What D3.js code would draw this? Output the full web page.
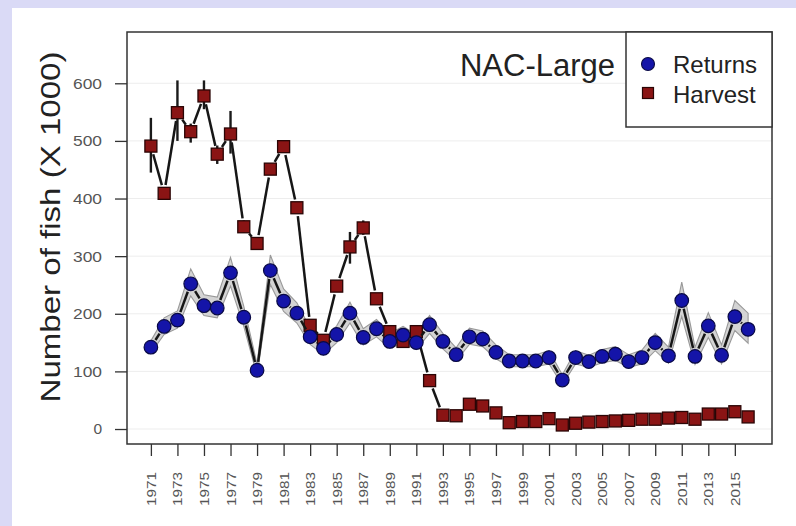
<!DOCTYPE html>
<html>
<head>
<meta charset="utf-8">
<script src="https://cdn.jsdelivr.net/npm/d3@7"></script>
<style>
  html, body { margin: 0; padding: 0; background: #dadaf6; }
  svg { display: block; font-family: "Liberation Sans", Arial, Helvetica, sans-serif; }
</style>
</head>
<body>
<svg id="chart" width="796" height="526"></svg>
<script>
// Years of the series
const years = d3.range(1971, 2017);

// Returns (thousands of fish) with lower / upper interval bounds
const returns = [142, 178, 189, 252, 214, 210, 271, 194, 102, 275,
                 222, 201, 160, 140, 164, 201, 159, 174, 152, 163,
                 150, 181, 152, 129, 160, 156, 133, 118, 118, 118,
                 124, 85, 124, 117, 126, 130, 117, 124, 150, 127,
                 223, 126, 179, 128, 195, 173];
const returnsLow = [132, 164, 175, 231, 197, 193, 248, 178, 93, 251,
                    204, 184, 147, 129, 150, 184, 146, 160, 140, 149,
                    138, 166, 139, 118, 147, 143, 122, 108, 108, 108,
                    113, 77, 113, 107, 115, 119, 107, 113, 136, 114,
                    195, 112, 159, 113, 171, 149];
const returnsHigh = [153, 193, 205, 278, 233, 229, 298, 213, 113, 302,
                     243, 219, 175, 153, 179, 220, 174, 190, 166, 178,
                     164, 197, 166, 141, 175, 170, 146, 129, 129, 129,
                     136, 94, 136, 128, 138, 143, 129, 137, 166, 142,
                     255, 142, 202, 146, 223, 201];

// Harvest (thousands of fish) with lower / upper interval bounds
const harvest = [491, 409, 549, 516, 578, 477, 512, 351, 322, 451,
                 490, 384, 180, 154, 248, 316, 349, 226, 169, 152,
                 169, 84, 24, 23, 43, 40, 28, 11, 13, 13,
                 18, 7, 10, 12, 13, 14, 15, 17, 17, 19,
                 20, 17, 26, 26, 30, 21];
const harvestLow = [445, 402, 500, 497, 555, 460, 478, 341, 313, 442,
                    482, 375, 173, 147, 240, 287, 337, 219, 163, 146,
                    163, 79, 21, 20, 39, 36, 25, 9, 11, 11,
                    15, 5, 8, 10, 11, 12, 13, 14, 14, 16,
                    17, 14, 23, 23, 27, 18];
const harvestHigh = [540, 416, 605, 530, 605, 492, 552, 362, 332, 460,
                     498, 393, 188, 162, 257, 342, 362, 234, 176, 159,
                     176, 89, 27, 26, 47, 44, 31, 13, 15, 15,
                     21, 9, 12, 14, 15, 16, 17, 20, 20, 22,
                     23, 20, 29, 29, 33, 24];

// Axis ticks and labels
const yTicks = [0, 100, 200, 300, 400, 500, 600];
const xTicks = d3.range(1971, 2016, 2);
const seriesNames = ["Returns", "Harvest"];
const panelTitle = "NAC-Large";
const yTitle = "Number of fish (X 1000)";

const svg = d3.select("#chart");

// White page panel
svg.append("rect").attr("x", 12).attr("y", 8).attr("width", 784).attr("height", 518).attr("fill", "#ffffff");

const plot = { left: 127, top: 32, right: 772, bottom: 444 };
const x = d3.scaleLinear().domain([1969.2, 2017.8]).range([plot.left, plot.right]);
const y = d3.scaleLinear().domain([-26, 689]).range([plot.bottom, plot.top]);

// Faint horizontal grid
svg.append("g").selectAll("line").data(yTicks).join("line")
  .attr("x1", plot.left).attr("x2", plot.right)
  .attr("y1", d => y(d)).attr("y2", d => y(d))
  .attr("stroke", "#ededed").attr("stroke-width", 1);

// Interval band for returns
const band = d3.area()
  .x((d, i) => x(years[i]))
  .y0((d, i) => y(returnsLow[i]))
  .y1((d, i) => y(returnsHigh[i]));
svg.append("path").datum(returns).attr("d", band)
  .attr("fill", "#d4d4d4").attr("stroke", "#999").attr("stroke-width", 1.1);

// Connected segments with a gap around each point
function gappedSegments(values, gap) {
  const pts = values.map((v, i) => [x(years[i]), y(v)]);
  const segs = [];
  for (let i = 0; i < pts.length - 1; i++) {
    const [x0, y0] = pts[i], [x1, y1] = pts[i + 1];
    const len = Math.hypot(x1 - x0, y1 - y0);
    if (len <= 2 * gap) continue;
    const ux = (x1 - x0) / len, uy = (y1 - y0) / len;
    segs.push([x0 + ux * gap, y0 + uy * gap, x1 - ux * gap, y1 - uy * gap]);
  }
  return segs;
}

// Harvest interval bars
svg.append("g").selectAll("line").data(harvest).join("line")
  .attr("x1", (d, i) => x(years[i])).attr("x2", (d, i) => x(years[i]))
  .attr("y1", (d, i) => y(harvestLow[i])).attr("y2", (d, i) => y(harvestHigh[i]))
  .attr("stroke", "#1a1a1a").attr("stroke-width", 2.4);

// Harvest line
svg.append("g").selectAll("line").data(gappedSegments(harvest, 8.5)).join("line")
  .attr("x1", d => d[0]).attr("y1", d => d[1]).attr("x2", d => d[2]).attr("y2", d => d[3])
  .attr("stroke", "#161616").attr("stroke-width", 2.5);

// Harvest squares
const sq = 12;
svg.append("g").selectAll("rect").data(harvest).join("rect")
  .attr("x", (d, i) => x(years[i]) - sq / 2).attr("y", d => y(d) - sq / 2)
  .attr("width", sq).attr("height", sq)
  .attr("fill", "#8a1414").attr("stroke", "#2a0505").attr("stroke-width", 1.3);

// Returns line
svg.append("g").selectAll("line").data(gappedSegments(returns, 8.5)).join("line")
  .attr("x1", d => d[0]).attr("y1", d => d[1]).attr("x2", d => d[2]).attr("y2", d => d[3])
  .attr("stroke", "#161616").attr("stroke-width", 2.5);

// Returns circles
svg.append("g").selectAll("circle").data(returns).join("circle")
  .attr("cx", (d, i) => x(years[i])).attr("cy", d => y(d)).attr("r", 6.8)
  .attr("fill", "#1414a8").attr("stroke", "#0a0a45").attr("stroke-width", 1.2);

// Y axis
const yAxis = svg.append("g").attr("transform", `translate(${plot.left},0)`)
  .call(d3.axisLeft(y).tickValues(yTicks).tickSize(12).tickPadding(13).tickFormat(d3.format("d")));
yAxis.select(".domain").remove();
yAxis.selectAll("line").attr("stroke", "#333").attr("stroke-width", 1.3);
yAxis.selectAll("text")
  .attr("fill", "#555").attr("font-size", 15.5)
  .attr("font-family", "Liberation Sans, Arial, sans-serif")
  .each(function (d) {
    if (d >= 100) d3.select(this).attr("textLength", 29).attr("lengthAdjust", "spacingAndGlyphs");
  });

// X axis
const xAxis = svg.append("g").attr("transform", `translate(0,${plot.bottom})`)
  .call(d3.axisBottom(x).tickValues(xTicks).tickSize(12).tickFormat(d3.format("d")));
xAxis.select(".domain").remove();
xAxis.selectAll("line").attr("stroke", "#333").attr("stroke-width", 1.3);
xAxis.selectAll("text")
  .attr("fill", "#555").attr("font-size", 13)
  .attr("font-family", "Liberation Sans, Arial, sans-serif")
  .attr("text-anchor", "end")
  .attr("transform", "translate(0,28) rotate(-90)")
  .attr("x", 0).attr("y", 0).attr("dy", "0.35em")
  .attr("textLength", 34).attr("lengthAdjust", "spacingAndGlyphs");

// Plot frame
svg.append("rect")
  .attr("x", plot.left).attr("y", plot.top)
  .attr("width", plot.right - plot.left).attr("height", plot.bottom - plot.top)
  .attr("fill", "none").attr("stroke", "#333").attr("stroke-width", 1.5);

// Y axis title
svg.append("text")
  .attr("transform", "translate(60,227) rotate(-90)")
  .attr("text-anchor", "middle")
  .attr("font-size", 28).attr("fill", "#222")
  .attr("textLength", 351).attr("lengthAdjust", "spacingAndGlyphs")
  .text(yTitle);

// Panel title
svg.append("text")
  .attr("x", 615).attr("y", 76).attr("text-anchor", "end")
  .attr("font-size", 31).attr("fill", "#222")
  .text(panelTitle);

// Legend
const leg = svg.append("g");
leg.append("rect").attr("x", 626).attr("y", plot.top).attr("width", plot.right - 626).attr("height", 127 - plot.top)
  .attr("fill", "#ffffff").attr("stroke", "#333").attr("stroke-width", 1.5);
leg.append("circle").attr("cx", 648).attr("cy", 64).attr("r", 6.5)
  .attr("fill", "#1414a8").attr("stroke", "#0a0a45").attr("stroke-width", 1.1);
leg.append("rect").attr("x", 648 - 5.5).attr("y", 93 - 5.5).attr("width", 11).attr("height", 11)
  .attr("fill", "#8a1414").attr("stroke", "#2a0505").attr("stroke-width", 1.2);
leg.selectAll("text").data(seriesNames).join("text")
  .attr("x", 673).attr("y", (d, i) => 73 + i * 30)
  .attr("font-size", 24).attr("fill", "#222")
  .text(d => d);
</script>
</body>
</html>
